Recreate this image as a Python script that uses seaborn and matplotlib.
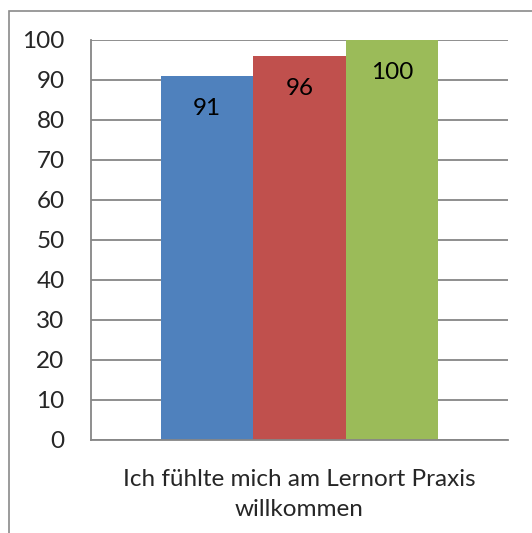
import pandas as pd
import seaborn as sns
import matplotlib.pyplot as plt
from matplotlib.patches import Rectangle

# Daten
kategorie = ["Ich fühlte mich am Lernort Praxis\nwillkommen"]
reihen = ["Reihe 1", "Reihe 2", "Reihe 3"]
werte = [91, 96, 100]
y_ticks = [0, 10, 20, 30, 40, 50, 60, 70, 80, 90, 100]

farben = ["#4F81BD", "#C0504D", "#9BBB59"]
grau = "#868686"

df = pd.DataFrame({
    "kategorie": kategorie * len(reihen),
    "reihe": reihen,
    "wert": werte,
})

sns.set_style("white")
plt.rcParams["font.family"] = ["Lato", "DejaVu Sans"]

W, H = 532, 533
fig = plt.figure(figsize=(W / 100, H / 100), dpi=100)
ax = fig.add_axes([91 / W, 1 - 440 / H, (508 - 91) / W, 400 / H])

sns.barplot(data=df, x="kategorie", y="wert", hue="reihe", palette=farben,
            width=0.666, dodge=True, legend=False, ax=ax, saturation=1)

for p in ax.patches:
    p.set_linewidth(0)

for c in ax.containers:
    ax.bar_label(c, fmt="%d", padding=-31, fontsize=17.5, color="black")

ax.set_xlim(-0.5, 0.5)
ax.set_ylim(0, 100)
ax.set_yticks(y_ticks)
ax.yaxis.grid(True, color=grau, linewidth=1.3)
ax.set_axisbelow(True)
ax.set_xlabel("")
ax.set_ylabel("")
ax.tick_params(axis="y", length=0, pad=19, labelsize=17.5)
ax.tick_params(axis="x", length=0, pad=21, labelsize=17.5)
for lbl in ax.get_xticklabels():
    lbl.set_linespacing(1.5)

for s in ["top", "right"]:
    ax.spines[s].set_visible(False)
for s in ["left", "bottom"]:
    ax.spines[s].set_color(grau)
    ax.spines[s].set_linewidth(1.3)

# Rahmen um das Diagramm
fig.patches.append(Rectangle((8.5 / W, -0.1), 1.2, 1.1 - 11 / H, transform=fig.transFigure,
                             fill=False, edgecolor="#8A8A8A", linewidth=1.2))

fig.savefig("out.png", dpi=100)
